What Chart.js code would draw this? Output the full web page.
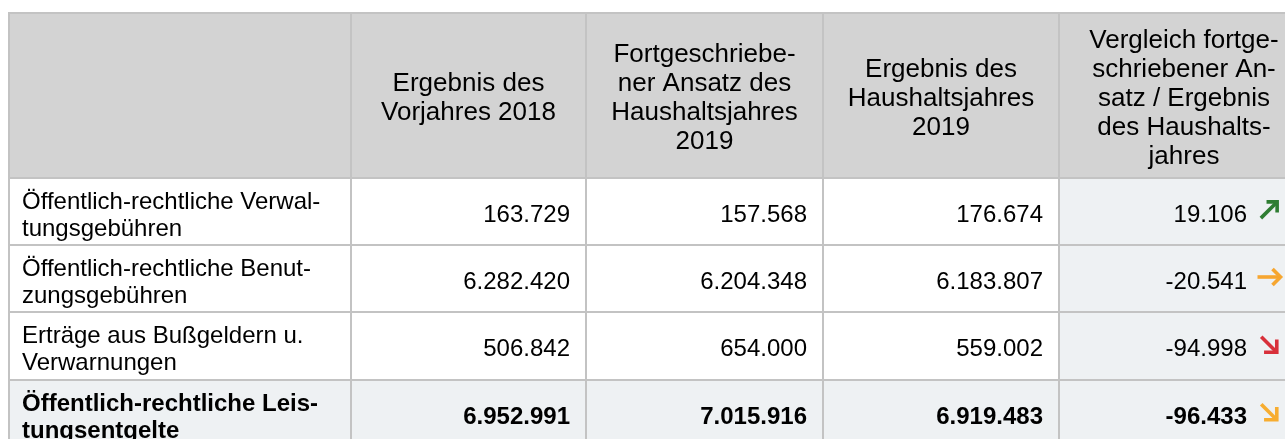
<!DOCTYPE html>
<html>
<head>
<meta charset="utf-8">
<script src="https://cdn.jsdelivr.net/npm/chart.js@4/dist/chart.umd.min.js"></script>
<style>
  html, body { margin: 0; padding: 0; background: #fff; }
  canvas { display: block; }
</style>
</head>
<body>
<canvas id="tbl" width="1285" height="439"></canvas>
<script>
// table content
const columnHeaders = [
  [],
  ['Ergebnis des', 'Vorjahres 2018'],
  ['Fortgeschriebe-', 'ner Ansatz des', 'Haushaltsjahres', '2019'],
  ['Ergebnis des', 'Haushaltsjahres', '2019'],
  ['Vergleich fortge-', 'schriebener An-', 'satz / Ergebnis', 'des Haushalts-', 'jahres'],
];
const rowLabels = [
  ['Öffentlich-rechtliche Verwal-', 'tungsgebühren'],
  ['Öffentlich-rechtliche Benut-', 'zungsgebühren'],
  ['Erträge aus Bußgeldern u.', 'Verwarnungen'],
  ['Öffentlich-rechtliche Leis-', 'tungsentgelte'],
];
const ergebnisVorjahr = [163729, 6282420, 506842, 6952991];
const ansatzHaushaltsjahr = [157568, 6204348, 654000, 7015916];
const ergebnisHaushaltsjahr = [176674, 6183807, 559002, 6919483];
const vergleich = [19106, -20541, -94998, -96433];
const trend = ['up', 'flat', 'down', 'slightDown'];
const totalRow = 3;

// layout (table units, 1 unit = 1px)
const colEdges = [0, 342, 577, 814, 1050, 1300];
const rowEdges = [0, 165, 232, 299, 367, 434];
const LINE = 2;

const COLORS = {
  header: '#d3d3d3',
  shade: '#eef1f3',
  border: '#c3c3c3',
  text: '#000000',
};
const ARROWS = {
  up: { angle: -45, color: '#2e7d32', len: 23, head: 7.5 },
  flat: { angle: 0, color: '#f6a630', len: 23, head: 8 },
  down: { angle: 45, color: '#d8303a', len: 22, head: 9 },
  slightDown: { angle: 45, color: '#f7ad30', len: 22, head: 9 },
};
const FONT = '"Liberation Sans", Arial, sans-serif';

function fmtNum(n) {
  return new Intl.NumberFormat('de-DE').format(n);
}

function cell(chart, c, r) {
  const x = chart.scales.x;
  const y = chart.scales.y;
  return {
    l: x.getPixelForValue(colEdges[c]),
    r: x.getPixelForValue(colEdges[c + 1]),
    t: y.getPixelForValue(rowEdges[r]),
    b: y.getPixelForValue(rowEdges[r + 1]),
  };
}

function drawLines(ctx, lines, x, capCenter, lineH, size) {
  const first = capCenter - ((lines.length - 1) * lineH) / 2 + 0.358 * size;
  lines.forEach((s, i) => ctx.fillText(s, x, first + i * lineH));
}

function drawArrow(ctx, kind, cx, cy) {
  const a = ARROWS[kind];
  ctx.save();
  ctx.translate(cx, cy);
  ctx.rotate((a.angle * Math.PI) / 180);
  ctx.strokeStyle = a.color;
  ctx.lineWidth = 3.6;
  ctx.lineCap = 'butt';
  ctx.lineJoin = 'miter';
  const h = a.len / 2;
  ctx.beginPath();
  ctx.moveTo(-h, 0);
  ctx.lineTo(h - 1.5, 0);
  ctx.stroke();
  ctx.beginPath();
  ctx.moveTo(h - a.head, -a.head);
  ctx.lineTo(h, 0);
  ctx.lineTo(h - a.head, a.head);
  ctx.stroke();
  ctx.restore();
}

const tablePlugin = {
  id: 'tablePlugin',
  afterDraw(chart) {
    const ctx = chart.ctx;
    const nCols = colEdges.length - 1;
    const nRows = rowEdges.length - 1;
    const columns = [null, ergebnisVorjahr, ansatzHaushaltsjahr, ergebnisHaushaltsjahr, vergleich];

    ctx.save();
    // backgrounds
    for (let r = 0; r < nRows; r++) {
      for (let c = 0; c < nCols; c++) {
        const k = cell(chart, c, r);
        let bg = '#ffffff';
        if (r === 0) bg = COLORS.header;
        else if (c === nCols - 1 || r - 1 === totalRow) bg = COLORS.shade;
        ctx.fillStyle = bg;
        ctx.fillRect(k.l, k.t, k.r - k.l, k.b - k.t);
      }
    }
    // grid lines
    const left = cell(chart, 0, 0).l;
    const right = cell(chart, nCols - 1, 0).r;
    const top = cell(chart, 0, 0).t;
    const bottom = cell(chart, 0, nRows - 1).b;
    ctx.fillStyle = COLORS.border;
    for (let r = 0; r <= nRows; r++) {
      const y = chart.scales.y.getPixelForValue(rowEdges[r]);
      ctx.fillRect(left, y, right - left, LINE);
    }
    for (let c = 0; c < nCols; c++) {
      const x = chart.scales.x.getPixelForValue(colEdges[c]);
      ctx.fillRect(x, top, LINE, bottom - top);
    }

    ctx.fillStyle = COLORS.text;
    ctx.textBaseline = 'alphabetic';
    // header
    ctx.font = '26px ' + FONT;
    ctx.textAlign = 'center';
    columnHeaders.forEach((lines, c) => {
      if (!lines.length) return;
      const k = cell(chart, c, 0);
      drawLines(ctx, lines, (k.l + LINE + k.r) / 2, (k.t + LINE + k.b) / 2 + 1, 29, 26);
    });

    // body rows
    rowLabels.forEach((label, i) => {
      const r = i + 1;
      const bold = i === totalRow;
      ctx.font = (bold ? 'bold ' : '') + '24px ' + FONT;
      const k0 = cell(chart, 0, r);
      const mid = (k0.t + LINE + k0.b) / 2;
      ctx.textAlign = 'left';
      drawLines(ctx, label, k0.l + 14, mid + 2, 27, 24);

      ctx.textAlign = 'right';
      for (let c = 1; c < nCols; c++) {
        const k = cell(chart, c, r);
        const v = fmtNum(columns[c][i]);
        if (c === nCols - 1) {
          drawLines(ctx, [v], k.l + 189, mid + 1.5, 27, 24);
          drawArrow(ctx, trend[i], k.l + 211, mid - 1.5);
        } else {
          drawLines(ctx, [v], k.r - 15, mid + 1.5, 27, 24);
        }
      }
    });
    ctx.restore();
  },
};

new Chart(document.getElementById('tbl'), {
  type: 'scatter',
  data: { datasets: [] },
  options: {
    responsive: false,
    animation: false,
    layout: { padding: { left: 8, top: 12, right: 0, bottom: 0 } },
    plugins: { legend: { display: false }, tooltip: { enabled: false } },
    scales: {
      x: { type: 'linear', display: false, min: 0, max: 1277 },
      y: { type: 'linear', display: false, reverse: true, min: 0, max: 427 },
    },
  },
  plugins: [tablePlugin],
});
</script>
</body>
</html>
